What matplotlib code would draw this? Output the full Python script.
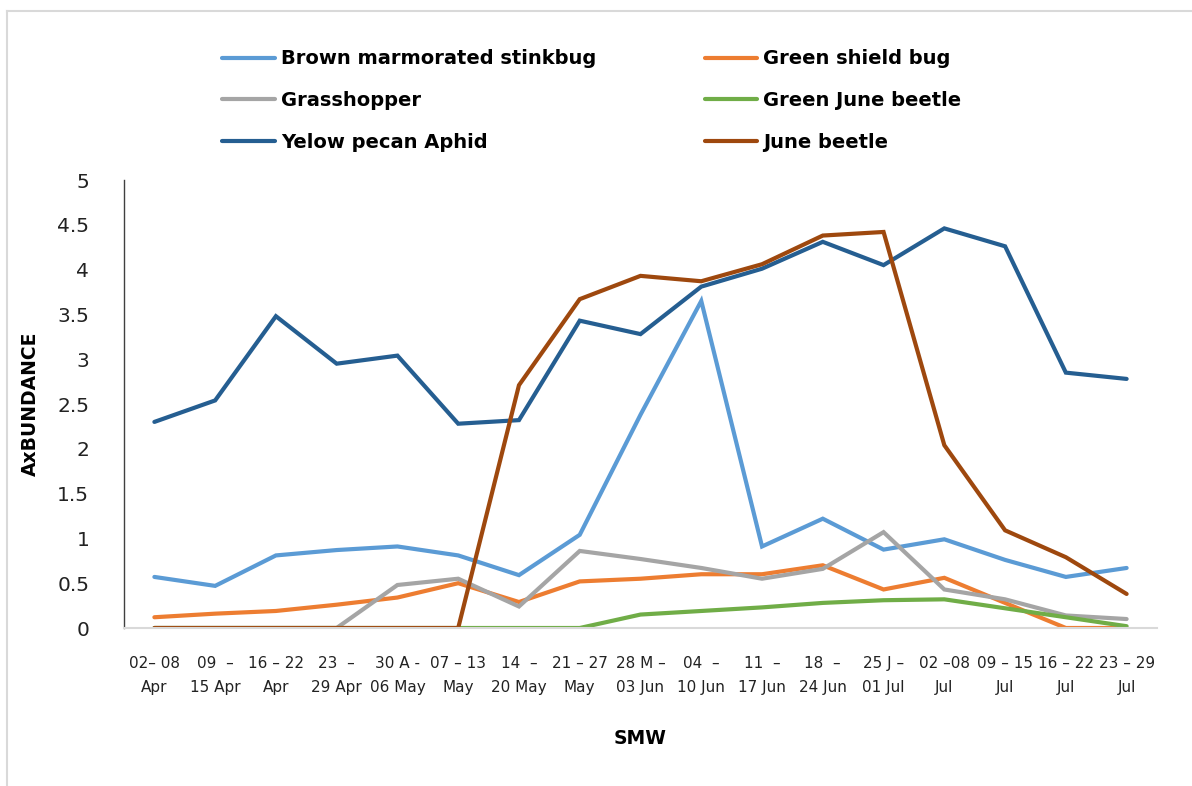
import matplotlib
matplotlib.use("Agg")
import matplotlib.pyplot as plt
from matplotlib.lines import Line2D
import numpy as np

weeks = ["02– 08\nApr", "09  –\n15 Apr", "16 – 22\nApr", "23  –\n29 Apr", "30 A -\n06 May",
         "07 – 13\nMay", "14  –\n20 May", "21 – 27\nMay", "28 M –\n03 Jun", "04  –\n10 Jun",
         "11  –\n17 Jun", "18  –\n24 Jun", "25 J –\n01 Jul", "02 –08\nJul", "09 – 15\nJul",
         "16 – 22\nJul", "23 – 29\nJul"]

stinkbug = [0.57, 0.47, 0.81, 0.87, 0.91, 0.81, 0.59, 1.04, 2.38, 3.65, 0.91, 1.22, 0.875, 0.99, 0.76, 0.57, 0.67]
shield = [0.12, 0.16, 0.19, 0.26, 0.34, 0.50, 0.29, 0.52, 0.55, 0.60, 0.60, 0.70, 0.43, 0.56, 0.28, 0.0, 0.0]
grasshopper = [0.0, 0.0, 0.0, 0.0, 0.48, 0.55, 0.24, 0.86, 0.77, 0.67, 0.55, 0.66, 1.07, 0.43, 0.32, 0.14, 0.10]
green_june = [0.0, 0.0, 0.0, 0.0, 0.0, 0.0, 0.0, 0.0, 0.15, 0.19, 0.23, 0.28, 0.31, 0.32, 0.22, 0.12, 0.02]
aphid = [2.30, 2.54, 3.48, 2.95, 3.04, 2.28, 2.32, 3.43, 3.28, 3.81, 4.01, 4.31, 4.05, 4.46, 4.26, 2.85, 2.78]
june_beetle = [0.0, 0.0, 0.0, 0.0, 0.0, 0.0, 2.71, 3.67, 3.93, 3.87, 4.06, 4.38, 4.42, 2.04, 1.09, 0.79, 0.38]

names = ["Brown marmorated stinkbug", "Green shield bug", "Grasshopper",
         "Green June beetle", "Yelow pecan Aphid", "June beetle"]
series = [stinkbug, shield, grasshopper, green_june, aphid, june_beetle]
colors = ["#5B9BD5", "#ED7D31", "#A5A5A5", "#70AD47", "#255E91", "#9E480E"]

plt.rcParams['font.family'] = ['Liberation Sans Narrow', 'DejaVu Sans']

fig = plt.figure(figsize=(11.92, 7.86), dpi=100)
ax = fig.add_axes([124/1192, 1-628/786, (1157-124)/1192, (628-180)/786])

x = np.arange(len(weeks))
handles = []
for vals, name, c in zip(series, names, colors):
    h, = ax.plot(x, vals, color=c, lw=3.0, solid_joinstyle='miter', solid_capstyle='round', label=name)
    handles.append(h)

ax.set_xlim(-0.5, len(weeks) - 0.5)
ax.set_ylim(0, 5)
ax.set_yticks(np.arange(0, 5.01, 0.5))
ax.set_yticklabels(["0", "0.5", "1", "1.5", "2", "2.5", "3", "3.5", "4", "4.5", "5"])
ax.set_xticks(x)
ax.set_xticklabels(weeks, fontsize=11, linespacing=1.8)
ax.tick_params(axis='y', length=0, pad=25, labelsize=14.5, colors='#222222')
ax.tick_params(axis='x', length=0, pad=20, colors='#222222')
for s in ["top", "right"]:
    ax.spines[s].set_visible(False)
ax.spines["left"].set_color("#404040")
ax.spines["left"].set_linewidth(1.0)
ax.spines["bottom"].set_color("#d9d9d9")
ax.spines["bottom"].set_linewidth(1.5)

ax.set_ylabel("AxBUNDANCE", fontsize=13.5, fontweight='bold')
ax.yaxis.set_label_coords(-(124-40)/1033, 0.5)
fig.text(640/1192, 1-738/786, "SMW", fontsize=13.5, fontweight='bold', ha='center', va='center')

order = [0, 2, 4, 1, 3, 5]
leg = fig.legend([handles[i] for i in order], [names[i] for i in order], ncol=2,
                 loc='upper left', bbox_to_anchor=(205/1192, 1-32/786), frameon=False,
                 prop={'weight': 'bold', 'size': 14}, handlelength=2.7, columnspacing=5.6,
                 labelspacing=1.16, handletextpad=0.3)

# chart area border
fig.add_artist(Line2D([7.5/1192, 7.5/1192], [0, 1-11/786], color='#d9d9d9', lw=1.5, transform=fig.transFigure))
fig.add_artist(Line2D([7/1192, 1], [1-11/786, 1-11/786], color='#d9d9d9', lw=1.5, transform=fig.transFigure))

fig.savefig("out.png", dpi=100)
